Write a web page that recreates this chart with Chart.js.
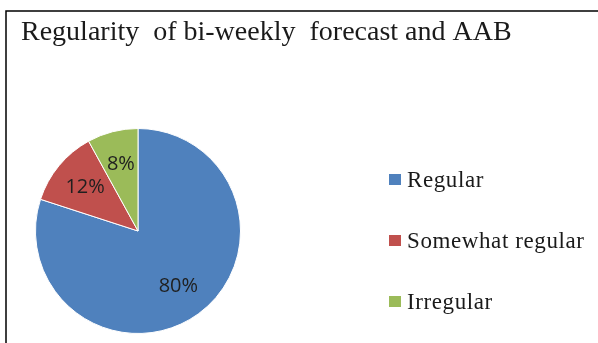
<!DOCTYPE html>
<html>
<head>
<meta charset="utf-8">
<script src="https://cdn.jsdelivr.net/npm/chart.js@4"></script>
<style>
  html, body { margin: 0; padding: 0; background: #fff; }
  #wrap { width: 598px; height: 343px; position: relative; }
</style>
</head>
<body>
<div id="wrap"><canvas id="pieChart" width="598" height="343"></canvas></div>
<script>
const chartTitle = 'Regularity  of bi-weekly  forecast and AAB';
const categories = ['Regular', 'Somewhat regular', 'Irregular'];
const shares = [80, 12, 8];
const sliceColors = ['#4F81BD', '#C0504D', '#9BBB59'];

// frame lines (top and left only) plus the title
const framePlugin = {
    id: 'frame',
    beforeDraw(chart) {
        const ctx = chart.ctx;
        ctx.save();
        ctx.fillStyle = '#fff';
        ctx.fillRect(0, 0, chart.width, chart.height);
        ctx.strokeStyle = '#000';
        ctx.lineWidth = 1.5;
        ctx.beginPath();
        ctx.moveTo(6, chart.height);
        ctx.lineTo(6, 11);
        ctx.lineTo(chart.width, 11);
        ctx.stroke();
        ctx.fillStyle = '#1a1a1a';
        ctx.font = '28px "Liberation Serif", serif';
        ctx.textBaseline = 'alphabetic';
        ctx.fillText(chartTitle, 21, 40);
        ctx.restore();
    }
};

// percentage labels inside the slices
const sliceLabels = {
    id: 'sliceLabels',
    afterDatasetsDraw(chart) {
        const ctx = chart.ctx;
        const meta = chart.getDatasetMeta(0);
        ctx.save();
        ctx.fillStyle = '#1f1f1f';
        ctx.font = '20px "Open Sans", "Liberation Sans", sans-serif';
        ctx.textAlign = 'center';
        ctx.textBaseline = 'middle';
        meta.data.forEach((arc, i) => {
            const mid = (arc.startAngle + arc.endAngle) / 2;
            const r = arc.outerRadius * 0.67;
            ctx.fillText(shares[i] + '%', arc.x + Math.cos(mid) * r, arc.y + Math.sin(mid) * r);
        });
        ctx.restore();
    }
};

// legend column on the right
const sideLegend = {
    id: 'sideLegend',
    afterDraw(chart) {
        const ctx = chart.ctx;
        ctx.save();
        ctx.font = '23px "Liberation Serif", serif';
        ctx.letterSpacing = '0.6px';
        ctx.textBaseline = 'alphabetic';
        categories.forEach((name, i) => {
            const base = 187 + i * 61;
            ctx.fillStyle = sliceColors[i];
            ctx.fillRect(389, base - 13, 12, 11);
            ctx.fillStyle = '#1a1a1a';
            ctx.fillText(name, 407, base);
        });
        ctx.restore();
    }
};

const ctx = document.getElementById('pieChart').getContext('2d');
new Chart(ctx, {
    type: 'pie',
    data: {
        labels: categories,
        datasets: [{
            data: shares,
            backgroundColor: sliceColors,
            borderColor: '#fff',
            borderWidth: 1
        }]
    },
    options: {
        responsive: false,
        animation: false,
        layout: { padding: { left: 35, right: 357, top: 128, bottom: 9 } },
        plugins: {
            legend: { display: false },
            title: { display: false },
            tooltip: { enabled: false }
        }
    },
    plugins: [framePlugin, sliceLabels, sideLegend]
});
</script>
</body>
</html>
